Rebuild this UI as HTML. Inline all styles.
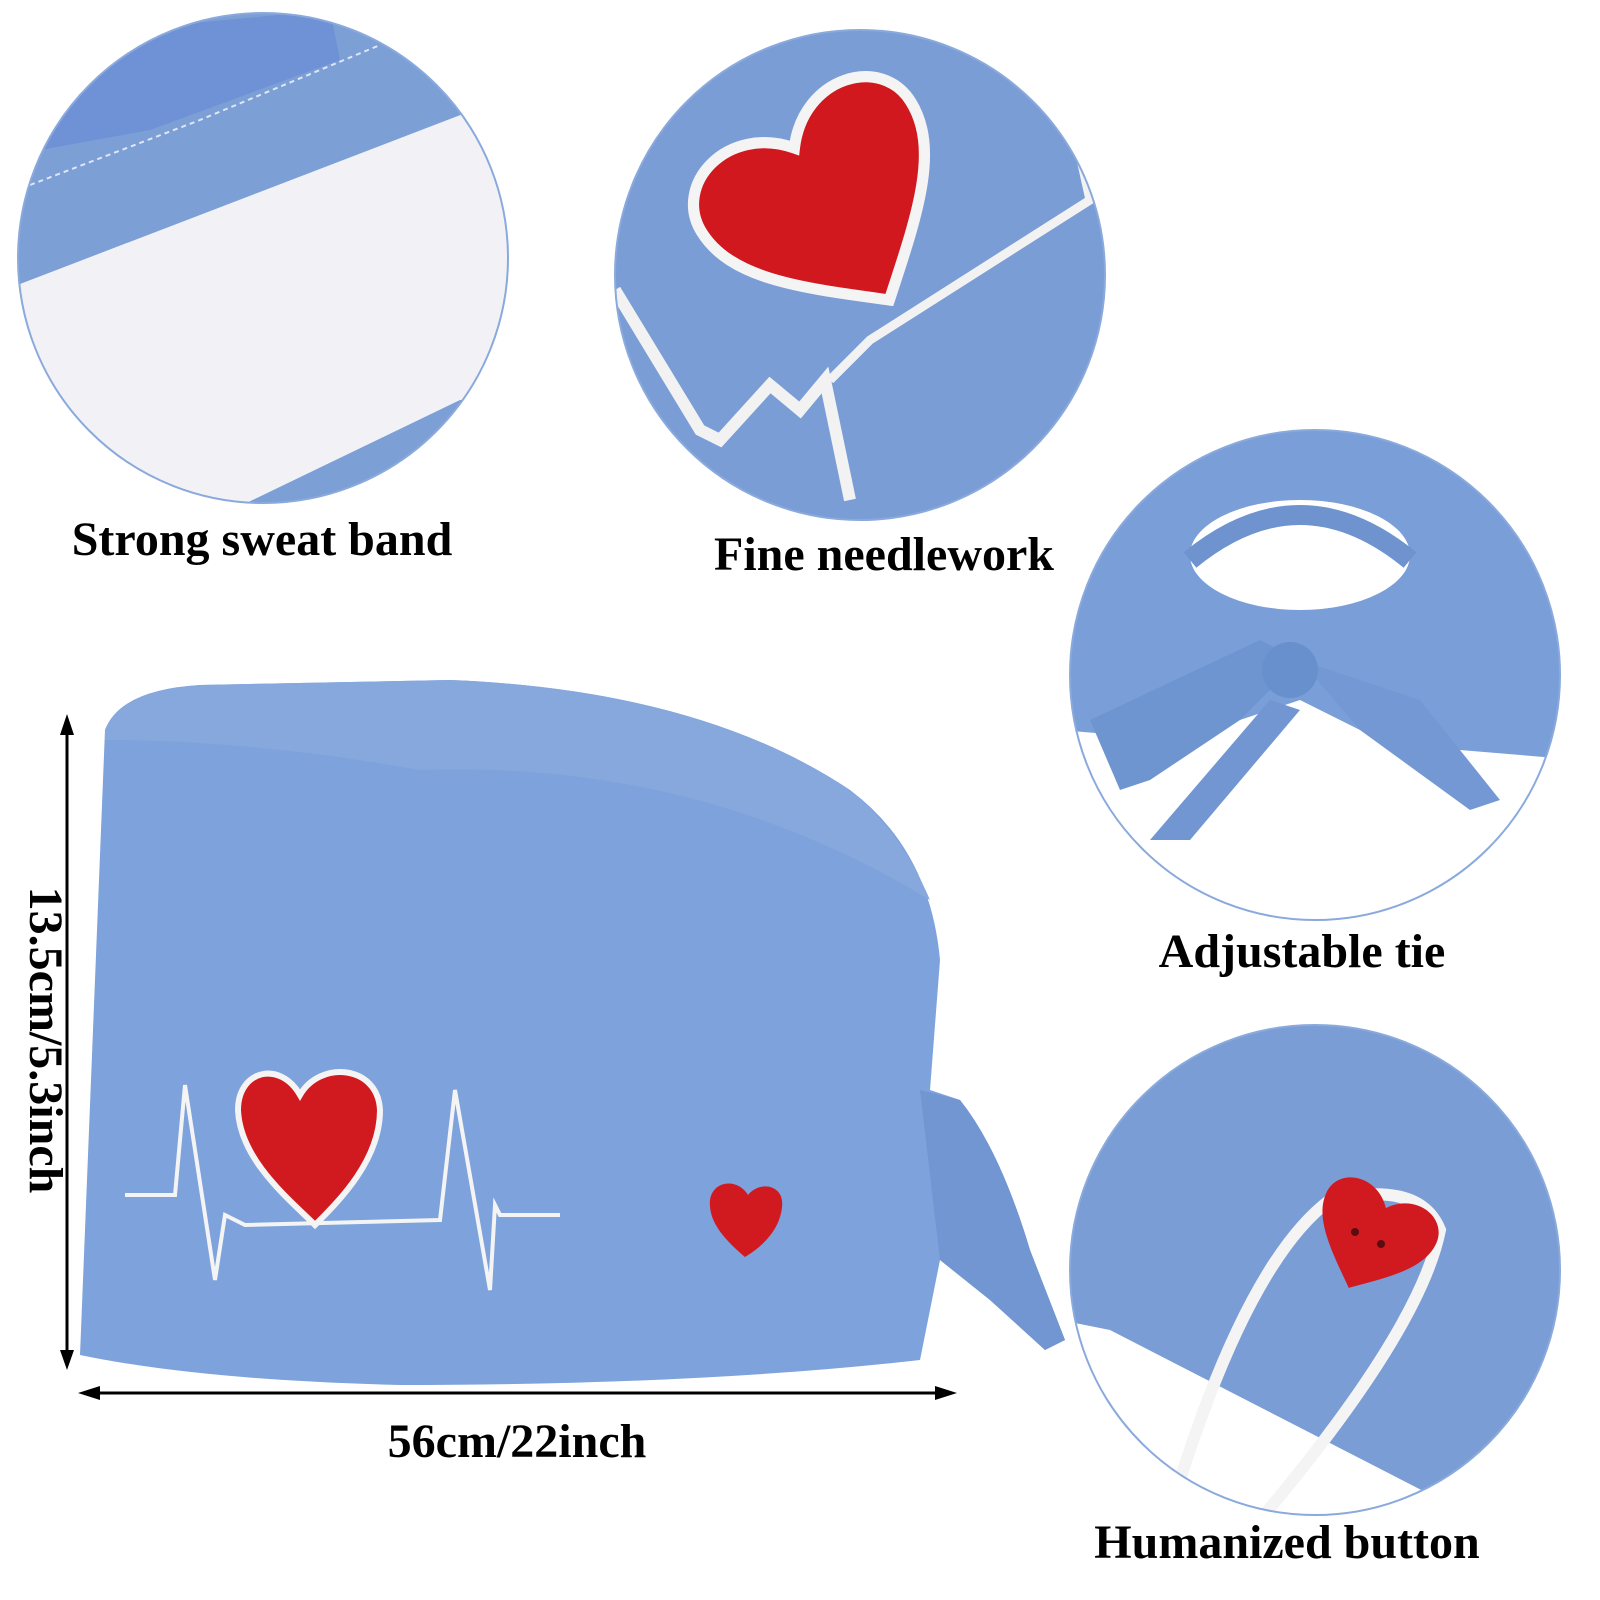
<!DOCTYPE html>
<html><head><meta charset="utf-8"><style>
html,body{margin:0;padding:0;background:#fff;}
svg{display:block;}
text{font-family:"Liberation Serif",serif;font-weight:bold;fill:#000;}
</style></head><body>
<svg width="1600" height="1600" viewBox="0 0 1600 1600" xmlns="http://www.w3.org/2000/svg">
<defs>
<clipPath id="c1"><circle cx="263" cy="258" r="245"/></clipPath>
<clipPath id="c2"><circle cx="860" cy="275" r="245"/></clipPath>
<clipPath id="c3"><circle cx="1315" cy="675" r="245"/></clipPath>
<clipPath id="c4"><circle cx="1315" cy="1270" r="245"/></clipPath>
</defs>

<!-- Circle 1 -->
<g clip-path="url(#c1)">
<rect x="0" y="0" width="520" height="520" fill="#7c9fd6"/>
<polygon points="40,150 120,30 330,10 340,60 150,130 40,150" fill="#6f91d6"/>
<polygon points="20,284 463,114 520,110 520,400 460,400 232,510 0,520 0,290" fill="#f2f2f6"/>
<polyline points="30,185 200,120 380,45" fill="none" stroke="#dfe6f5" stroke-width="2" stroke-dasharray="5 4"/>
</g>
<circle cx="263" cy="258" r="245" fill="none" stroke="#8aa9dc" stroke-width="2"/>

<!-- Circle 2 -->
<g clip-path="url(#c2)">
<rect x="600" y="20" width="520" height="520" fill="#7a9dd6"/>
<polyline points="615,290 700,430 720,440 770,385 800,410 825,380 850,500" fill="none" stroke="#f2f2f2" stroke-width="12"/>
<polyline points="830,380 870,340 1090,200 1070,110" fill="none" stroke="#f2f2f2" stroke-width="9"/>
<g transform="translate(830,205) rotate(-32) scale(1.12)">
<path d="M0,100 C-60,50 -110,10 -110,-40 C-110,-90 -40,-110 0,-60 C40,-110 110,-90 110,-40 C110,10 60,50 0,100 Z" fill="#d0181e" stroke="#f4f4f4" stroke-width="10"/>
</g>
</g>
<circle cx="860" cy="275" r="245" fill="none" stroke="#8aa9dc" stroke-width="2"/>

<!-- Circle 3 -->
<g clip-path="url(#c3)">
<rect x="1060" y="420" width="520" height="520" fill="#fff"/>
<path d="M1060,430 L1580,430 L1580,760 L1460,750 L1380,740 L1300,700 L1180,740 L1060,730 Z" fill="#7a9ed8"/>
<ellipse cx="1300" cy="555" rx="110" ry="55" fill="#fff"/>
<path d="M1190,560 Q1300,470 1410,560" fill="none" stroke="#6e93cf" stroke-width="20"/>
<path d="M1090,720 L1260,640 L1300,660 L1240,720 L1150,780 L1120,790 Z" fill="#6f95d0"/>
<path d="M1300,660 L1420,700 L1500,800 L1470,810 L1360,730 Z" fill="#7398d3"/>
<path d="M1150,840 L1270,700 L1300,710 L1190,840 Z" fill="#7196d1"/>
<circle cx="1290" cy="670" r="28" fill="#6890cc"/>
</g>
<circle cx="1315" cy="675" r="245" fill="none" stroke="#8aa9dc" stroke-width="2"/>

<!-- Circle 4 -->
<g clip-path="url(#c4)">
<rect x="1060" y="1020" width="520" height="520" fill="#7a9dd6"/>
<polygon points="1060,1320 1110,1330 1470,1515 1060,1530" fill="#fff"/>
<path d="M1180,1480 Q1250,1260 1330,1200 Q1420,1180 1440,1230 Q1420,1330 1260,1520" fill="none" stroke="#f4f4f4" stroke-width="12"/>
<g transform="translate(1372,1238) rotate(25) scale(0.55)">
<path d="M0,100 C-60,50 -110,10 -110,-40 C-110,-90 -40,-110 0,-60 C40,-110 110,-90 110,-40 C110,10 60,50 0,100 Z" fill="#d11a1f"/>
</g>
<circle cx="1355" cy="1232" r="4" fill="#5a0d10"/><circle cx="1381" cy="1244" r="4" fill="#5a0d10"/>
</g>
<circle cx="1315" cy="1270" r="245" fill="none" stroke="#8aa9dc" stroke-width="2"/>

<!-- Main cap -->
<path d="M105,730 Q120,690 200,685 L450,680 Q700,690 850,790 Q930,850 940,960 L930,1090 L960,1100 Q1000,1150 1030,1250 L1065,1340 L1045,1350 L990,1300 L940,1260 L920,1360 Q700,1385 400,1385 Q200,1380 80,1355 Z" fill="#7ea2db"/>
<path d="M105,730 Q120,690 200,685 L450,680 Q700,690 850,790 Q900,830 930,900 Q700,760 420,770 Q250,740 105,740 Z" fill="#86a8dd"/>
<path d="M920,1090 L960,1100 Q1000,1150 1030,1250 L1065,1340 L1045,1350 L990,1300 L940,1260 Z" fill="#7196d1"/>
<polyline points="125,1195 175,1195 185,1085 215,1280 225,1215 245,1225 440,1220 455,1090 490,1290 495,1205 500,1215 560,1215" fill="none" stroke="#f4f4f4" stroke-width="4"/>
<path d="M315,1225 C290,1200 240,1160 238,1110 C238,1070 280,1060 300,1095 C320,1060 378,1065 380,1110 C380,1160 340,1200 315,1225 Z" fill="#d11a1f" stroke="#f4f4f4" stroke-width="6"/>
<path d="M745,1257 C725,1240 708,1222 710,1200 C713,1180 738,1178 748,1195 C760,1180 785,1185 782,1207 C780,1228 765,1245 745,1257 Z" fill="#d11a1f"/>

<!-- Arrows -->
<line x1="67" y1="725" x2="67" y2="1358" stroke="#000" stroke-width="3"/>
<polygon points="67,714 60,735 74,735" fill="#000"/>
<polygon points="67,1370 60,1350 74,1350" fill="#000"/>
<line x1="90" y1="1393" x2="945" y2="1393" stroke="#000" stroke-width="3"/>
<polygon points="78,1393 100,1386 100,1400" fill="#000"/>
<polygon points="957,1393 935,1386 935,1400" fill="#000"/>

<!-- Labels -->
<text x="262" y="555" font-size="48" text-anchor="middle">Strong sweat band</text>
<text x="884" y="570" font-size="48" text-anchor="middle">Fine needlework</text>
<text x="1302" y="967" font-size="48" text-anchor="middle">Adjustable tie</text>
<text x="1287" y="1558" font-size="48" text-anchor="middle">Humanized button</text>
<text x="517" y="1457" font-size="48" text-anchor="middle">56cm/22inch</text>
<text transform="translate(30,1040) rotate(90)" font-size="48" text-anchor="middle">13.5cm/5.3inch</text>
</svg>
</body></html>
